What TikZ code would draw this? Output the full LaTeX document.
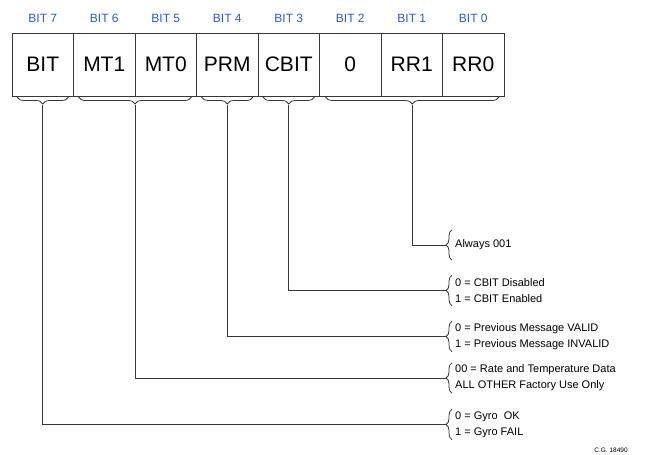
\documentclass[tikz,border=0pt]{standalone}
\usepackage{fontspec}
\setmainfont{Liberation Sans}
\usetikzlibrary{positioning,decorations.pathreplacing}
\definecolor{RegBlue}{RGB}{48,92,190}
\definecolor{RegLine}{RGB}{55,55,55}

\begin{document}
\begin{tikzpicture}[x=1pt,y=-1pt,node distance=0pt]
        \tikzset{cell/.style={draw=RegLine,line width=0.8pt,minimum width=61.5pt,minimum height=63pt,inner sep=0pt,outer sep=0pt,font=\fontsize{21}{24}\selectfont},
          bitlbl/.style={text=RegBlue,inner sep=0pt,font=\fontsize{12}{14}\selectfont},
          desc/.style={anchor=west,align=left,minimum height=30pt,inner xsep=3pt,inner ysep=0pt,font=\fontsize{11}{16}\selectfont},
          ubrace/.style={draw=RegLine,line width=0.8pt,decorate,decoration={brace,mirror,amplitude=7pt}},
          lbrace/.style={draw=RegLine,line width=0.8pt,decorate,decoration={brace,amplitude=6pt}},
          conn/.style={draw=RegLine,line width=1pt}}
        \useasboundingbox (0,0) rectangle (662,455);
        \node[cell] (bit7) at (42.75,64.5) {BIT};
        \node[cell,right=of bit7] (bit6) {MT1};
        \node[cell,right=of bit6] (bit5) {MT0};
        \node[cell,right=of bit5] (bit4) {PRM};
        \node[cell,right=of bit4] (bit3) {CBIT};
        \node[cell,right=of bit3] (bit2) {0};
        \node[cell,right=of bit2] (bit1) {RR1};
        \node[cell,right=of bit1] (bit0) {RR0};
        \node[bitlbl,above=10pt of bit7] (lbl7) {BIT 7};
        \node[bitlbl,above=10pt of bit6] (lbl6) {BIT 6};
        \node[bitlbl,above=10pt of bit5] (lbl5) {BIT 5};
        \node[bitlbl,above=10pt of bit4] (lbl4) {BIT 4};
        \node[bitlbl,above=10pt of bit3] (lbl3) {BIT 3};
        \node[bitlbl,above=10pt of bit2] (lbl2) {BIT 2};
        \node[bitlbl,above=10pt of bit1] (lbl1) {BIT 1};
        \node[bitlbl,above=10pt of bit0] (lbl0) {BIT 0};
        \draw[ubrace] ([xshift=5pt,yshift=-1pt]bit7.south west) -- ([xshift=-5pt,yshift=-1pt]bit7.south east) node[coordinate,midway,below=8pt] (tip7) {};
        \draw[ubrace] ([xshift=5pt,yshift=-1pt]bit6.south west) -- ([xshift=-5pt,yshift=-1pt]bit5.south east) node[coordinate,midway,below=8pt] (tip5) {};
        \draw[ubrace] ([xshift=5pt,yshift=-1pt]bit4.south west) -- ([xshift=-5pt,yshift=-1pt]bit4.south east) node[coordinate,midway,below=8pt] (tip4) {};
        \draw[ubrace] ([xshift=5pt,yshift=-1pt]bit3.south west) -- ([xshift=-5pt,yshift=-1pt]bit3.south east) node[coordinate,midway,below=8pt] (tip3) {};
        \draw[ubrace] ([xshift=6pt,yshift=-1pt]bit2.south west) -- ([xshift=-5pt,yshift=-1pt]bit0.south east) node[coordinate,midway,below=8pt] (tip0) {};
        \node[desc] (rr) at (452,245) {Always 001};
        \node[desc] (cb) at (452,290.5) {0 = CBIT Disabled\\1 = CBIT Enabled};
        \node[desc] (pm) at (452,336.5) {0 = Previous Message VALID\\1 = Previous Message INVALID};
        \node[desc] (mt) at (452,378) {00 = Rate and Temperature Data\\ALL OTHER Factory Use Only};
        \node[desc] (gy) at (452,424.5) {0 = Gyro\ \ OK\\1 = Gyro FAIL};
        \draw[lbrace] (rr.south west) -- (rr.north west) node[coordinate,midway,left=6pt] (end0) {};
        \draw[lbrace] (cb.south west) -- (cb.north west) node[coordinate,midway,left=6pt] (end3) {};
        \draw[lbrace] (pm.south west) -- (pm.north west) node[coordinate,midway,left=6pt] (end4) {};
        \draw[lbrace] (mt.south west) -- (mt.north west) node[coordinate,midway,left=6pt] (end5) {};
        \draw[lbrace] (gy.south west) -- (gy.north west) node[coordinate,midway,left=6pt] (end7) {};
        \draw[conn] (tip0) |- (end0);
        \draw[conn] (tip3) |- (end3);
        \draw[conn] (tip4) |- (end4);
        \draw[conn] (tip5) |- (end5);
        \draw[conn] (tip7) |- (end7);
        \node[anchor=base,inner sep=0pt,font=\fontsize{6.5}{7}\selectfont] (cg) at (611,452.5) {C.G. 18490};
      \end{tikzpicture}
\end{document}
